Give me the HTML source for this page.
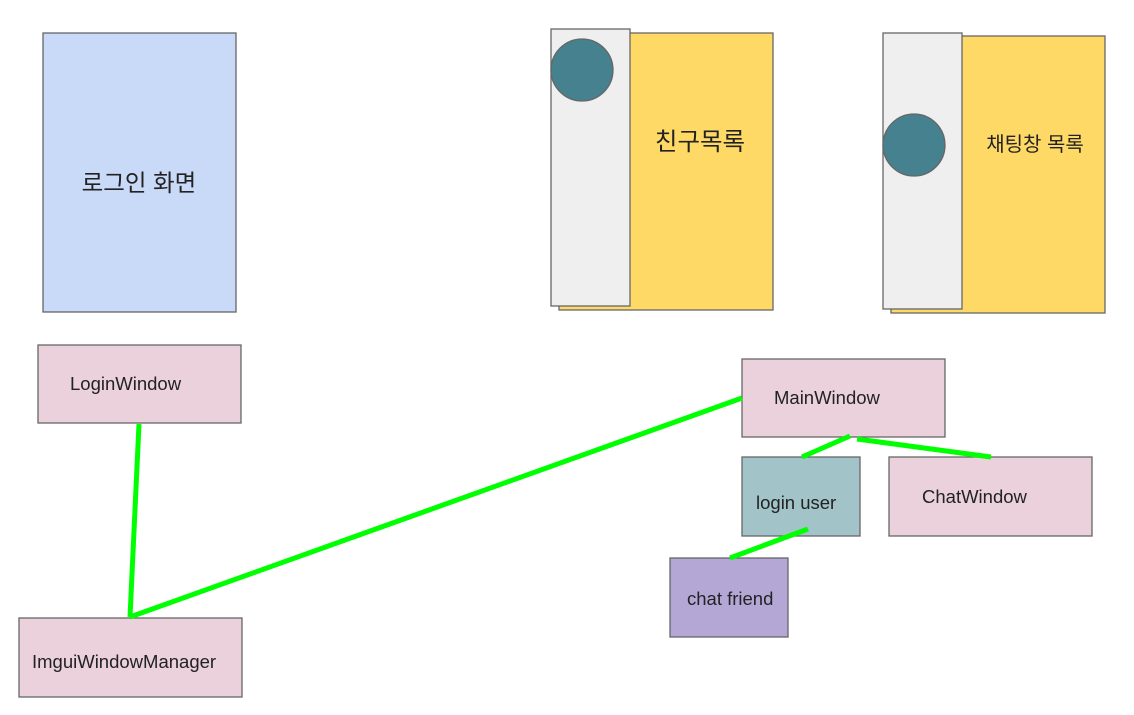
<!DOCTYPE html>
<html><head><meta charset="utf-8"><style>html,body{margin:0;padding:0;background:#fff}svg{display:block}</style></head>
<body>
<svg width="1134" height="715" xmlns="http://www.w3.org/2000/svg" font-family="'Liberation Sans','Noto Sans CJK KR',sans-serif">
<g stroke="#666" stroke-width="1.3">
<rect x="43" y="33" width="193" height="279" fill="#c9daf8"/>
<rect x="559" y="33" width="214" height="277" fill="#ffd966"/>
<rect x="551" y="29" width="79" height="277" fill="#efefef"/>
<ellipse cx="582" cy="70" rx="31" ry="31" fill="#45818e"/>
<rect x="891" y="36" width="214" height="277" fill="#ffd966"/>
<rect x="883" y="33" width="79" height="276" fill="#efefef"/>
<ellipse cx="914" cy="145" rx="31" ry="31" fill="#45818e"/>
<rect x="38" y="345" width="203" height="78" fill="#ead1dc"/>
<rect x="742" y="359" width="203" height="78" fill="#ead1dc"/>
<rect x="742" y="457" width="118" height="79" fill="#a2c4c9"/>
<rect x="889" y="457" width="203" height="79" fill="#ead1dc"/>
<rect x="670" y="558" width="118" height="79" fill="#b4a7d6"/>
<rect x="19" y="618" width="223" height="79" fill="#ead1dc"/>
</g>
<g stroke="#00ff00" stroke-width="5" fill="none">
<line x1="139" y1="424" x2="130" y2="617"/>
<line x1="130" y1="617" x2="742" y2="398"/>
<line x1="850" y1="436" x2="802" y2="457"/>
<line x1="857" y1="439" x2="991" y2="457"/>
<line x1="808" y1="529" x2="730" y2="558"/>
</g>
<g fill="#222">
<text x="139" y="191" font-size="23.5" text-anchor="middle">로그인 화면</text>
<text x="700" y="150" font-size="24.5" text-anchor="middle">친구목록</text>
<text x="1035" y="151" font-size="20" text-anchor="middle">채팅창 목록</text>
<text x="70" y="390" font-size="18.5">LoginWindow</text>
<text x="774" y="404" font-size="18.5">MainWindow</text>
<text x="756" y="509" font-size="18.5">login user</text>
<text x="922" y="503" font-size="18.5">ChatWindow</text>
<text x="687" y="605" font-size="18.5">chat friend</text>
<text x="32" y="668" font-size="18.5">ImguiWindowManager</text>
</g>
</svg>
</body></html>
